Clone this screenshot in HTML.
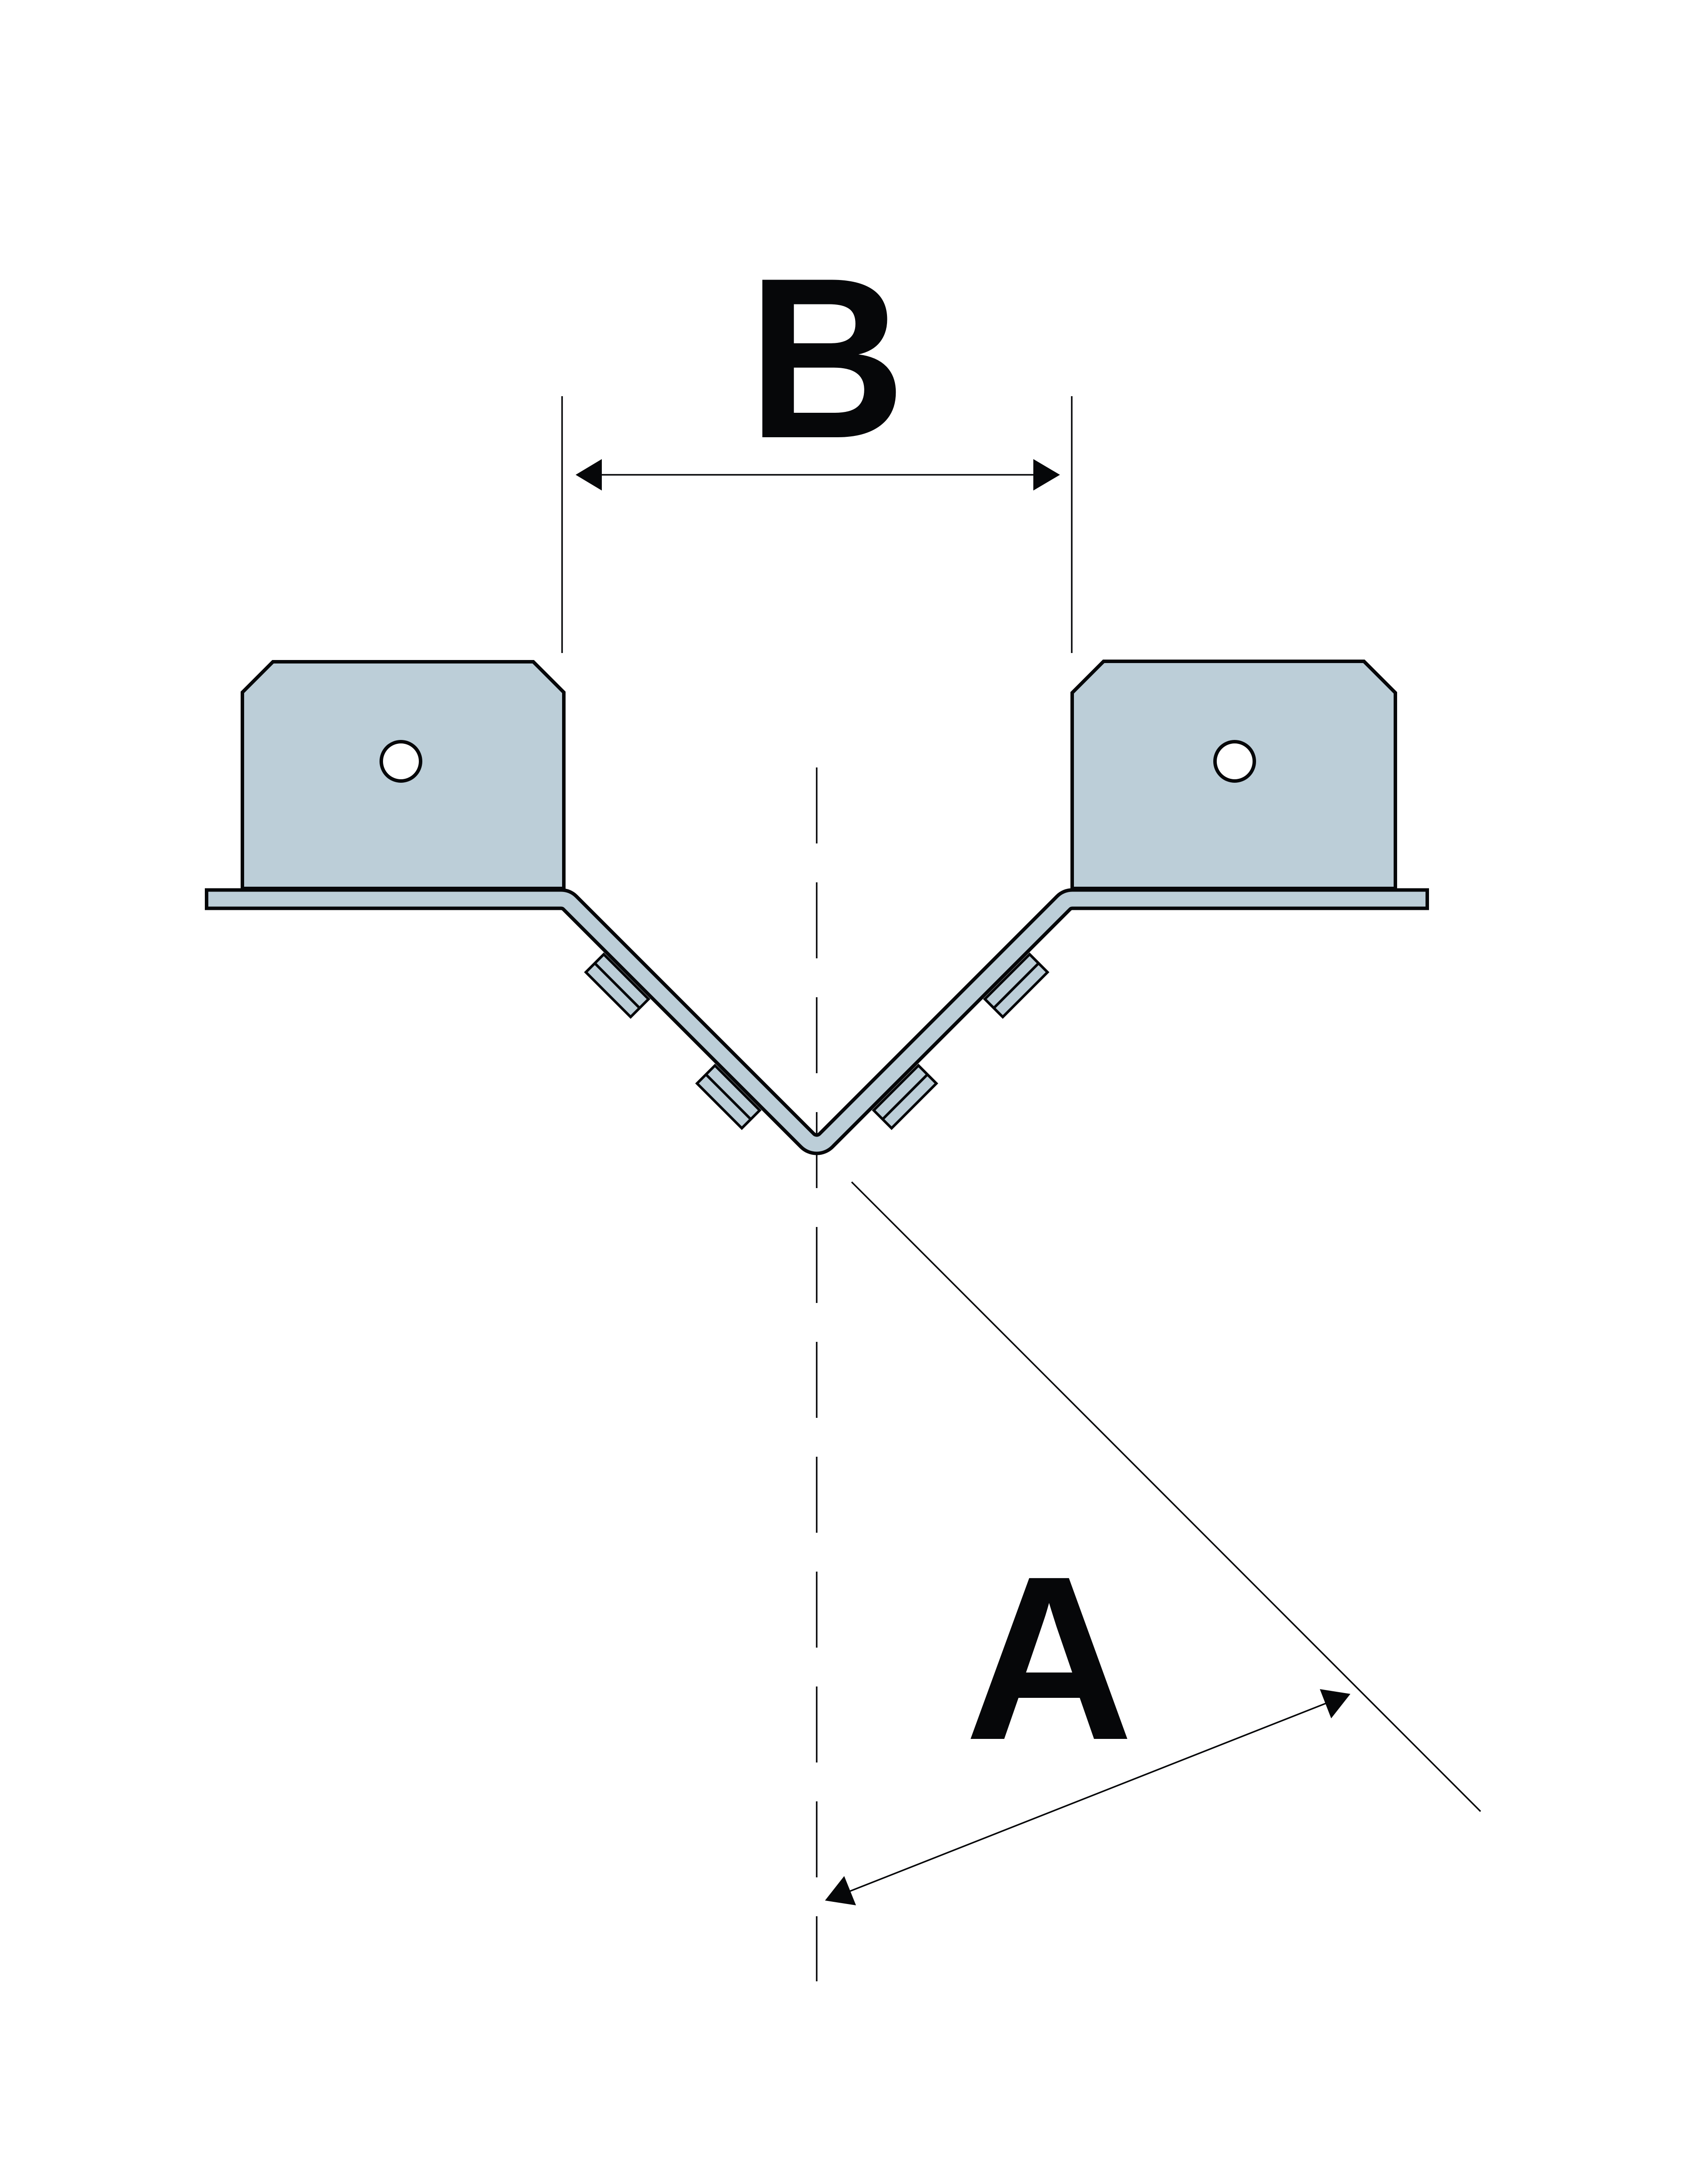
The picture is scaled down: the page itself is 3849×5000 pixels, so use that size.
<!DOCTYPE html>
<html>
<head>
<meta charset="utf-8">
<style>
  html, body { margin: 0; padding: 0; background: #ffffff; }
  svg { display: block; }
</style>
</head>
<body>
<svg width="3849" height="5000" viewBox="0 0 3849 5000" xmlns="http://www.w3.org/2000/svg">
  <rect x="0" y="0" width="3849" height="5000" fill="#ffffff"/>

  <!-- Center (axis) line, dashed -->
  <line x1="1870" y1="1757" x2="1870" y2="4536" stroke="#060709" stroke-width="3.5" stroke-dasharray="174 89"/>

  <!-- Dimension B extension lines -->
  <line x1="1287" y1="907" x2="1287" y2="1495" stroke="#060709" stroke-width="3.5"/>
  <line x1="2454" y1="907" x2="2454" y2="1495" stroke="#060709" stroke-width="3.5"/>
  <!-- Dimension B line with arrowheads -->
  <line x1="1370" y1="1087" x2="2375" y2="1087" stroke="#060709" stroke-width="3.5"/>
  <polygon points="1318,1087 1378,1051 1378,1123" fill="#060709"/>
  <polygon points="2427,1087 2366,1051 2366,1123" fill="#060709"/>

  <!-- Diagonal extension line -->
  <line x1="1950" y1="2706" x2="3390" y2="4147" stroke="#060709" stroke-width="3.5"/>

  <!-- Dimension A line with arrowheads -->
  <line x1="1935" y1="4334" x2="3045" y2="3896" stroke="#060709" stroke-width="3.5"/>
  <polygon points="1889,4351 1933,4295 1960,4362" fill="#060709"/>
  <polygon points="3092,3878 3022,3867 3048,3934" fill="#060709"/>

  <!-- Left panel -->
  <path d="M555 2034 L555 1585 L625 1515 L1221 1515 L1291 1585 L1291 2034 Z" fill="#BCCED8" stroke="#060709" stroke-width="8" stroke-linejoin="miter"/>
  <circle cx="918" cy="1743" r="45" fill="#ffffff" stroke="#060709" stroke-width="8"/>

  <!-- Right panel -->
  <path d="M2455 2034 L2455 1586 L2527 1514 L3123 1514 L3195 1586 L3195 2034 Z" fill="#BCCED8" stroke="#060709" stroke-width="8" stroke-linejoin="miter"/>
  <circle cx="2827" cy="1743" r="45" fill="#ffffff" stroke="#060709" stroke-width="8"/>

  <!-- Bent plate: black outline then blue fill -->
  <path d="M469 2058.5 L1284.9 2058.5 A28 28 0 0 1 1304.7 2066.7 L1848.8 2610.8 A30 30 0 0 0 1891.2 2610.8 L2435.3 2066.7 A28 28 0 0 1 2455.1 2058.5 L3272 2058.5"
        fill="none" stroke="#060709" stroke-width="50" stroke-linecap="butt" stroke-linejoin="round"/>
  <path d="M477 2058.5 L1284.9 2058.5 A28 28 0 0 1 1304.7 2066.7 L1848.8 2610.8 A30 30 0 0 0 1891.2 2610.8 L2435.3 2066.7 A28 28 0 0 1 2455.1 2058.5 L3264 2058.5"
        fill="none" stroke="#BCCED8" stroke-width="34" stroke-linecap="butt" stroke-linejoin="round"/>

  <!-- Clips on left arm -->
  <g transform="translate(1870 2632) rotate(45)">
    <rect x="-661" y="28.5" width="145" height="58" fill="#BCCED8" stroke="#060709" stroke-width="6"/>
    <line x1="-661" y1="57.5" x2="-516" y2="57.5" stroke="#060709" stroke-width="6"/>
    <rect x="-301" y="28.5" width="145" height="58" fill="#BCCED8" stroke="#060709" stroke-width="6"/>
    <line x1="-301" y1="57.5" x2="-156" y2="57.5" stroke="#060709" stroke-width="6"/>
  </g>
  <!-- Clips on right arm (mirror) -->
  <g transform="translate(3740 0) scale(-1 1)">
    <g transform="translate(1870 2632) rotate(45)">
      <rect x="-661" y="28.5" width="145" height="58" fill="#BCCED8" stroke="#060709" stroke-width="6"/>
      <line x1="-661" y1="57.5" x2="-516" y2="57.5" stroke="#060709" stroke-width="6"/>
      <rect x="-301" y="28.5" width="145" height="58" fill="#BCCED8" stroke="#060709" stroke-width="6"/>
      <line x1="-301" y1="57.5" x2="-156" y2="57.5" stroke="#060709" stroke-width="6"/>
    </g>
  </g>

  <!-- Labels -->
  <text x="1712" y="1001" font-family="'Liberation Sans', Arial, sans-serif" font-weight="bold" font-size="524" fill="#060709" textLength="362" lengthAdjust="spacingAndGlyphs">B</text>
  <text x="2209" y="3981" font-family="'Liberation Sans', Arial, sans-serif" font-weight="bold" font-size="535" fill="#060709">A</text>
</svg>
</body>
</html>
